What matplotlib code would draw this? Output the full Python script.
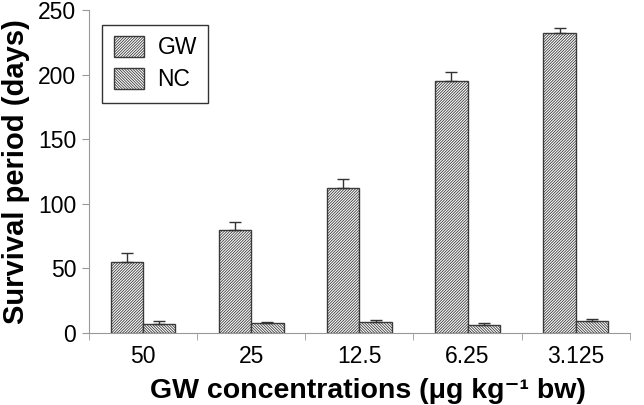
import numpy as np
import matplotlib.pyplot as plt

plt.rcParams['font.family'] = ['Liberation Sans', 'DejaVu Sans']
plt.rcParams['hatch.linewidth'] = 0.6

# data
concs = ['50', '25', '12.5', '6.25', '3.125']
gw = [55, 80, 112, 195, 232]
gw_err = [7, 6, 7, 7, 4]
nc = [7, 7.5, 8.5, 6, 9]
nc_err = [2, 1, 1.5, 2, 1.5]

x = np.arange(len(concs))
w = 0.3
zeros = [0] * len(concs)

fig = plt.figure(figsize=(6.44, 4.05), dpi=100)
ax = fig.add_axes([0.138, 0.178, 0.840, 0.797])

ekw = dict(ecolor='#333333', capsize=4, elinewidth=1, capthick=1)
ax.bar(x - w/2, gw, w, color='white', edgecolor='#3a3a3a', hatch='/' * 12,
       linewidth=1.0, label='GW', yerr=[zeros, gw_err], error_kw=ekw)
ax.bar(x + w/2, nc, w, color='white', edgecolor='#3a3a3a', hatch='\\' * 12,
       linewidth=1.0, label='NC', yerr=[zeros, nc_err], error_kw=ekw)

ax.set_xlim(-0.5, len(concs) - 0.5)
ax.set_ylim(0, 250)
ax.set_yticks([0, 50, 100, 150, 200, 250])
ax.set_xticks(x)
ax.set_xticklabels(concs)
ax.set_xticks(np.arange(len(concs) + 1) - 0.5, minor=True)
ax.tick_params(axis='x', which='major', length=0, pad=9, labelsize=16.5)
ax.tick_params(axis='x', which='minor', length=5, color='#999999')
ax.tick_params(axis='y', length=5, color='#999999', labelsize=16.5, pad=4)

for s in ['top', 'right']:
    ax.spines[s].set_visible(False)
for s in ['left', 'bottom']:
    ax.spines[s].set_color('#999999')

ax.set_ylabel('Survival period (days)', fontsize=21, fontweight='bold', labelpad=6)
ax.set_xlabel('GW concentrations (μg kg⁻¹ bw)', fontsize=20.5, fontweight='bold', labelpad=2)
ax.xaxis.set_label_coords(0.515, -0.14)

leg = ax.legend(loc='upper left', bbox_to_anchor=(0.025, 0.955), fontsize=16.5,
                fancybox=False, edgecolor='black', borderpad=0.5, handlelength=1.3,
                handleheight=1.0, labelspacing=0.4, handletextpad=0.6, borderaxespad=0)
leg.get_frame().set_linewidth(1.0)

plt.savefig('out.png', dpi=100)
